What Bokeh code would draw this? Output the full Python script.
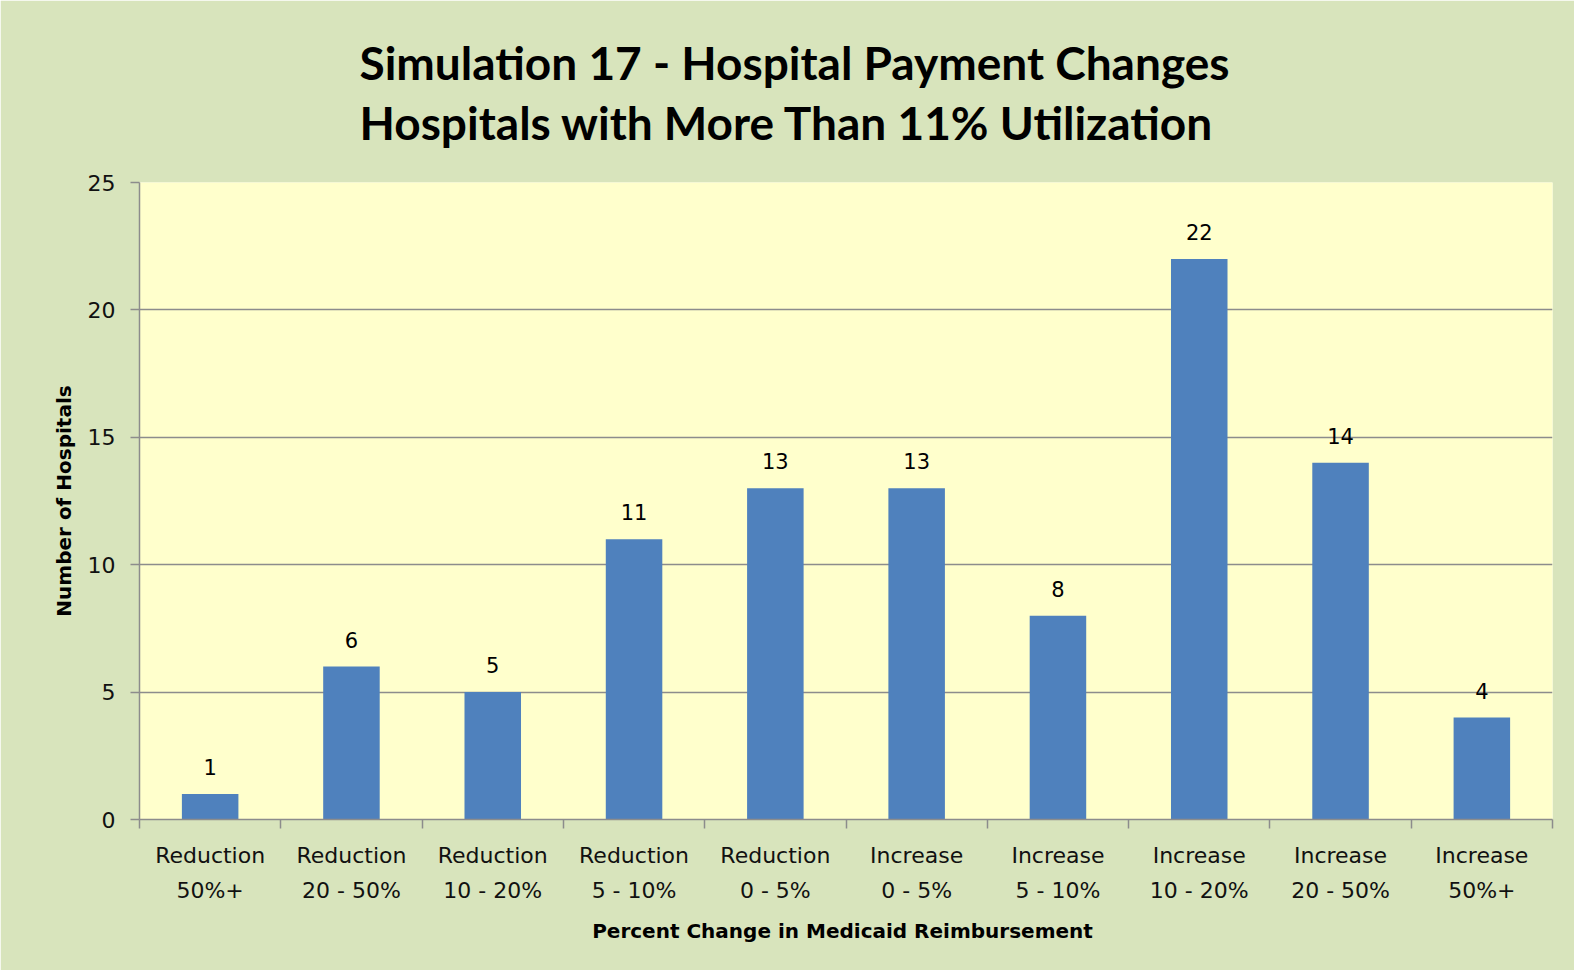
from bokeh.plotting import figure
from bokeh.models import Range1d, FixedTicker, LabelSet, ColumnDataSource
from bokeh.core.properties import value
from bokeh.embed import file_html
from bokeh.resources import INLINE

categories = ["Reduction\n50%+", "Reduction\n20 - 50%", "Reduction\n10 - 20%",
              "Reduction\n5 - 10%", "Reduction\n0 - 5%", "Increase\n0 - 5%",
              "Increase\n5 - 10%", "Increase\n10 - 20%", "Increase\n20 - 50%",
              "Increase\n50%+"]
hospitals = [1, 6, 5, 11, 13, 13, 8, 22, 14, 4]
y_ticks = [0, 5, 10, 15, 20, 25]
title_lines = ["Simulation 17 - Hospital Payment Changes",
               "Hospitals with More Than 11% Utilization"]

n = len(categories)
centers = [i + 0.5 for i in range(n)]
bounds = list(range(n + 1))

src = ColumnDataSource(dict(x=centers, top=hospitals,
                            label=[str(v) for v in hospitals]))

GREY = "#8C8C8C"
FONT = "DejaVu Sans"

W, H = 1574, 970
BL, BT, BR, BB = 139, 182, 22, 151
YMAX = 25

p = figure(width=W, height=H, output_backend="svg", toolbar_location=None,
           x_range=Range1d(0, n), y_range=Range1d(0, YMAX),
           min_border_left=BL, min_border_right=BR, min_border_top=BT,
           min_border_bottom=BB)

p.background_fill_color = "#FFFFCC"
p.border_fill_color = "#D8E4BC"
p.outline_line_color = None

p.title.text = "\n".join(title_lines)
p.title.align = "left"
p.title.offset = 220
p.title.standoff = 65
p.title.text_font = "Lato"
p.title.text_font_style = "bold"
p.title.text_font_size = "46px"
p.title.text_line_height = 1.09
p.title.text_color = "#000000"

p.vbar(x="x", top="top", width=0.4, bottom=0, source=src,
       fill_color="#4F81BD", line_color=None)

labels = LabelSet(x="x", y="top", text="label", source=src, y_offset=27,
                  text_align="center", text_baseline="middle",
                  text_font=value(FONT), text_font_size="21px",
                  text_color="#000000")
p.add_layout(labels)

# x axis
xa = p.xaxis[0]
xa.ticker = FixedTicker(ticks=centers, minor_ticks=bounds)
xa.major_label_overrides = {c: lab for c, lab in zip(centers, categories)}
xa.major_tick_out = 0
xa.major_tick_in = 0
xa.minor_tick_out = 9
xa.minor_tick_in = 0
xa.minor_tick_line_color = GREY
xa.minor_tick_line_width = 1.5
xa.axis_line_color = GREY
xa.axis_line_width = 1.5
xa.major_label_text_font = FONT
xa.major_label_text_font_size = "22px"
xa.major_label_text_line_height = 1.4
xa.major_label_text_color = "#111111"
xa.major_label_standoff = 14
xa.axis_label = "Percent Change in Medicaid  Reimbursement"
xa.axis_label_text_font = FONT
xa.axis_label_text_font_size = "20px"
xa.axis_label_text_font_style = "bold"
xa.axis_label_text_color = "#000000"
xa.axis_label_standoff = 13

# y axis
ya = p.yaxis[0]
ya.ticker = FixedTicker(ticks=y_ticks)
ya.major_tick_out = 9
ya.major_tick_in = 0
ya.minor_tick_line_color = None
ya.major_tick_line_color = GREY
ya.major_tick_line_width = 1.5
ya.axis_line_color = GREY
ya.axis_line_width = 1.5
ya.major_label_text_font = FONT
ya.major_label_text_font_size = "22px"
ya.major_label_text_color = "#111111"
ya.major_label_standoff = 15
ya.axis_label = "Number of Hospitals"
ya.axis_label_text_font = FONT
ya.axis_label_text_font_size = "20px"
ya.axis_label_text_font_style = "bold"
ya.axis_label_text_color = "#000000"
ya.axis_label_standoff = 9

p.xgrid.visible = False
p.ygrid.ticker = FixedTicker(ticks=y_ticks)
p.ygrid.grid_line_color = GREY
p.ygrid.grid_line_width = 1.5

open("out.html", "w").write(file_html(p, INLINE))
